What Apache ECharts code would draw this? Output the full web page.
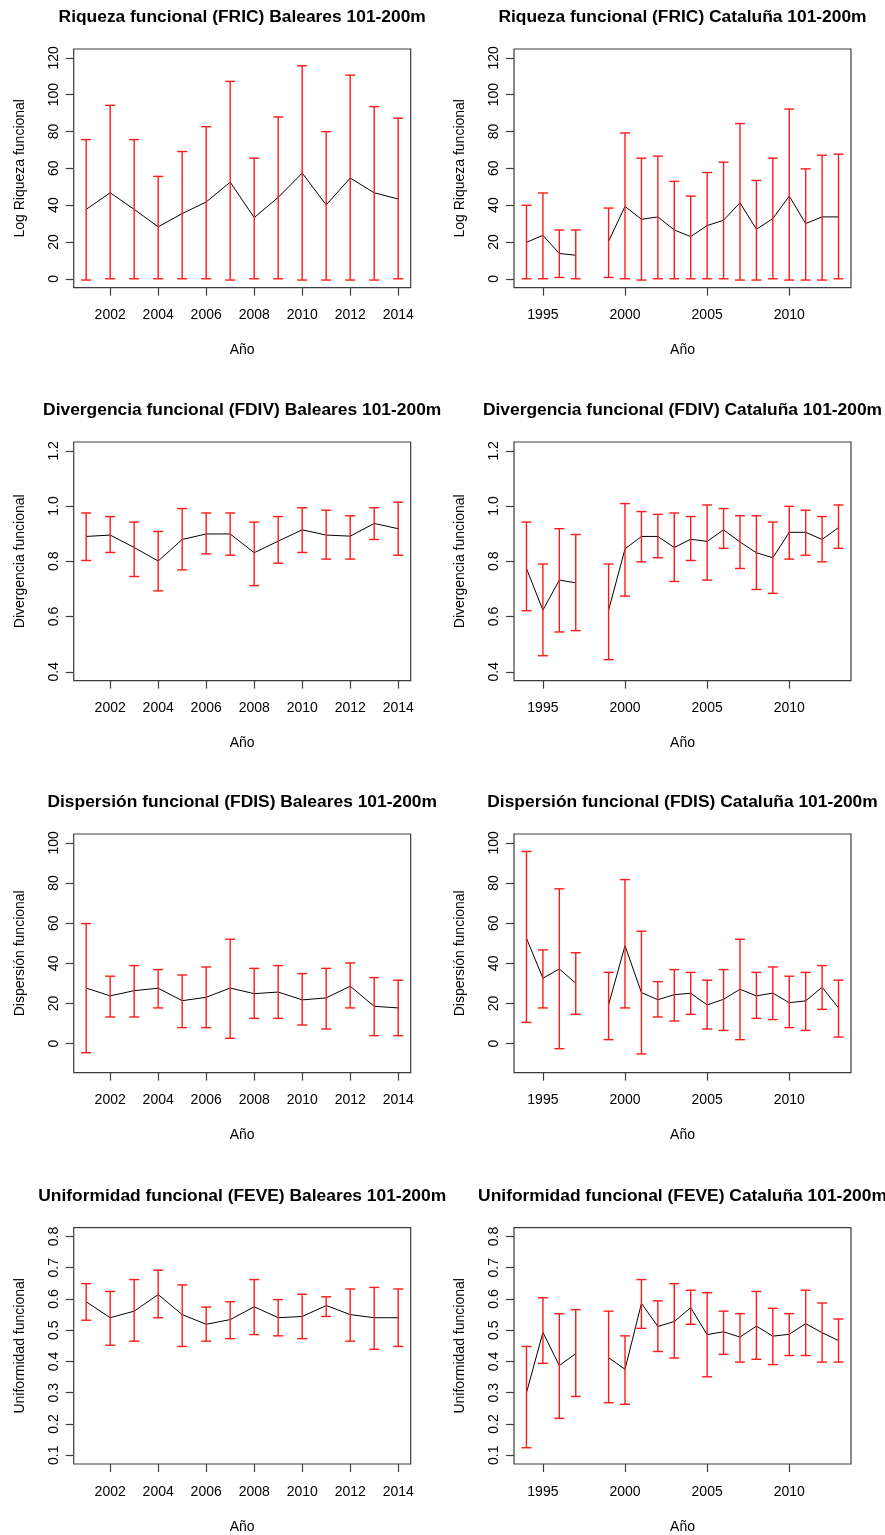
<!DOCTYPE html>
<html>
<head>
<meta charset="utf-8">
<title>Índices funcionales 101-200m</title>
<script src="https://cdn.jsdelivr.net/npm/echarts@6/dist/echarts.min.js"></script>
<style>
  html, body { margin: 0; padding: 0; background: #fff; }
  #chart { width: 885px; height: 1535px; }
</style>
</head>
<body>
<div id="chart"></div>
<script>
// años de cada zona (1998 sin muestreo en Cataluña)
var yearsBal = [2001, 2002, 2003, 2004, 2005, 2006, 2007, 2008, 2009, 2010, 2011, 2012, 2013, 2014]
var yearsCat = [1994, 1995, 1996, 1997, 1998, 1999, 2000, 2001, 2002, 2003, 2004, 2005, 2006, 2007, 2008, 2009, 2010, 2011, 2012, 2013]

// FRIC
var fricBalMean = [37.7, 46.7, 37.7, 28.2, 35.4, 41.7, 52.5, 33.2, 44.2, 57.4, 40.1, 54.7, 46.7, 43.3]
var fricBalLo = [-0.7, 0, 0, 0, 0, 0, -0.7, 0, 0, -0.7, -0.7, -0.7, -0.7, 0]
var fricBalHi = [75.6, 94.2, 75.6, 55.6, 69.1, 82.6, 107.2, 65.5, 87.9, 115.7, 79.9, 110.6, 93.5, 87.2]
var fricCatMean = [19.8, 23.6, 13.7, 12.8, null, 20.4, 39.3, 32.3, 33.6, 26.5, 22.9, 28.9, 31.8, 41.3, 26.9, 32.7, 44.9, 30.0, 33.6, 33.6]
var fricCatLo = [0, 0, 0.7, 0, null, 0.7, 0, -0.7, 0, 0, 0, 0, 0, -0.7, -0.7, 0, -0.7, -0.7, -0.7, 0]
var fricCatHi = [39.9, 46.6, 26.5, 26.5, null, 38.4, 79.2, 65.5, 66.6, 52.9, 44.9, 57.7, 63.3, 84.3, 53.4, 65.5, 92.2, 59.7, 67.1, 67.7]

// FDIV
var fdivBalMean = [0.890, 0.895, 0.850, 0.801, 0.879, 0.899, 0.899, 0.831, 0.873, 0.914, 0.895, 0.891, 0.937, 0.918]
var fdivBalLo = [0.803, 0.832, 0.745, 0.693, 0.769, 0.827, 0.822, 0.712, 0.793, 0.832, 0.808, 0.808, 0.879, 0.822]
var fdivBalHi = [0.975, 0.962, 0.942, 0.908, 0.991, 0.975, 0.975, 0.942, 0.962, 0.994, 0.985, 0.965, 0.994, 1.014]
var fdivCatMean = [0.774, 0.623, 0.732, 0.722, null, 0.623, 0.845, 0.890, 0.890, 0.850, 0.880, 0.872, 0.914, 0.870, 0.831, 0.813, 0.905, 0.905, 0.879, 0.922]
var fdivCatLo = [0.621, 0.458, 0.544, 0.549, null, 0.444, 0.674, 0.798, 0.813, 0.727, 0.803, 0.732, 0.847, 0.774, 0.698, 0.684, 0.808, 0.822, 0.798, 0.847]
var fdivCatHi = [0.942, 0.790, 0.918, 0.897, null, 0.790, 1.009, 0.980, 0.970, 0.975, 0.962, 1.004, 0.991, 0.965, 0.965, 0.942, 0.999, 0.985, 0.962, 1.004]

// FDIS
var fdisBalMean = [27.7, 23.8, 26.4, 27.6, 21.4, 23.1, 27.7, 24.9, 25.7, 21.8, 22.8, 28.6, 18.6, 17.8]
var fdisBalLo = [-4.5, 13.3, 13.3, 17.8, 8.0, 8.0, 2.7, 12.6, 12.6, 9.3, 7.3, 17.8, 4.0, 4.0]
var fdisBalHi = [59.8, 33.6, 38.9, 36.9, 34.2, 38.2, 52.0, 37.5, 38.9, 34.9, 37.5, 40.2, 32.9, 31.6]
var fdisCatMean = [52.5, 32.6, 37.2, 30.1, null, 19.4, 48.8, 25.4, 21.9, 24.4, 25.1, 19.3, 22.1, 27.1, 23.8, 25.2, 20.4, 21.3, 28.1, 17.8]
var fdisCatLo = [10.6, 17.8, -2.5, 14.6, null, 2.0, 17.8, -5.1, 13.3, 11.3, 14.6, 7.3, 6.6, 2.0, 12.6, 12.0, 8.0, 6.6, 17.1, 3.3]
var fdisCatHi = [95.7, 46.7, 77.1, 45.3, null, 35.5, 81.7, 56.0, 30.9, 36.9, 35.5, 31.6, 36.9, 52.0, 35.5, 38.2, 33.6, 35.5, 38.9, 31.6]

// FEVE
var feveBalMean = [0.591, 0.540, 0.561, 0.614, 0.550, 0.519, 0.534, 0.575, 0.540, 0.544, 0.579, 0.550, 0.540, 0.540]
var feveBalLo = [0.532, 0.452, 0.465, 0.540, 0.448, 0.465, 0.473, 0.486, 0.482, 0.473, 0.544, 0.465, 0.439, 0.448]
var feveBalHi = [0.649, 0.624, 0.662, 0.692, 0.645, 0.574, 0.591, 0.662, 0.598, 0.615, 0.607, 0.632, 0.637, 0.632]
var feveCatMean = [0.300, 0.493, 0.387, 0.425, null, 0.412, 0.375, 0.586, 0.512, 0.528, 0.572, 0.486, 0.495, 0.478, 0.513, 0.481, 0.487, 0.521, 0.492, 0.467]
var feveCatLo = [0.124, 0.394, 0.218, 0.288, null, 0.268, 0.263, 0.506, 0.432, 0.411, 0.519, 0.351, 0.423, 0.398, 0.407, 0.390, 0.419, 0.419, 0.398, 0.398]
var feveCatHi = [0.448, 0.604, 0.553, 0.566, null, 0.561, 0.482, 0.662, 0.594, 0.649, 0.628, 0.620, 0.561, 0.553, 0.624, 0.570, 0.553, 0.628, 0.587, 0.536]

// marcas de los ejes
var xTicksBal = [2002, 2004, 2006, 2008, 2010, 2012, 2014]
var xTicksCat = [1995, 2000, 2005, 2010]
var yTicksFric = [0, 20, 40, 60, 80, 100, 120]
var yTicksFdiv = [0.4, 0.6, 0.8, 1.0, 1.2]
var yTicksFdis = [0, 20, 40, 60, 80, 100]
var yTicksFeve = [0.1, 0.2, 0.3, 0.4, 0.5, 0.6, 0.7, 0.8]

var FONT = 'Liberation Sans, Arial, Helvetica, sans-serif'
var AXIS_COLOR = '#3c3c3c'
var BAR_COLOR = '#ff1a1a'

var panels = [
  { title: 'Riqueza funcional (FRIC) Baleares 101-200m', ylab: 'Log Riqueza funcional', years: yearsBal, mean: fricBalMean, lo: fricBalLo, hi: fricBalHi, xTicks: xTicksBal, xlim: [2001, 2014], yTicks: yTicksFric, ylim: [0, 120], dec: 0 },
  { title: 'Riqueza funcional (FRIC) Cataluña 101-200m', ylab: 'Log Riqueza funcional', years: yearsCat, mean: fricCatMean, lo: fricCatLo, hi: fricCatHi, xTicks: xTicksCat, xlim: [1994, 2013], yTicks: yTicksFric, ylim: [0, 120], dec: 0 },
  { title: 'Divergencia funcional (FDIV) Baleares 101-200m', ylab: 'Divergencia funcional', years: yearsBal, mean: fdivBalMean, lo: fdivBalLo, hi: fdivBalHi, xTicks: xTicksBal, xlim: [2001, 2014], yTicks: yTicksFdiv, ylim: [0.4, 1.2], dec: 1 },
  { title: 'Divergencia funcional (FDIV) Cataluña 101-200m', ylab: 'Divergencia funcional', years: yearsCat, mean: fdivCatMean, lo: fdivCatLo, hi: fdivCatHi, xTicks: xTicksCat, xlim: [1994, 2013], yTicks: yTicksFdiv, ylim: [0.4, 1.2], dec: 1 },
  { title: 'Dispersión funcional (FDIS) Baleares 101-200m', ylab: 'Dispersión funcional', years: yearsBal, mean: fdisBalMean, lo: fdisBalLo, hi: fdisBalHi, xTicks: xTicksBal, xlim: [2001, 2014], yTicks: yTicksFdis, ylim: [-10, 100], dec: 0 },
  { title: 'Dispersión funcional (FDIS) Cataluña 101-200m', ylab: 'Dispersión funcional', years: yearsCat, mean: fdisCatMean, lo: fdisCatLo, hi: fdisCatHi, xTicks: xTicksCat, xlim: [1994, 2013], yTicks: yTicksFdis, ylim: [-10, 100], dec: 0 },
  { title: 'Uniformidad funcional (FEVE) Baleares 101-200m', ylab: 'Uniformidad funcional', years: yearsBal, mean: feveBalMean, lo: feveBalLo, hi: feveBalHi, xTicks: xTicksBal, xlim: [2001, 2014], yTicks: yTicksFeve, ylim: [0.1, 0.8], dec: 1 },
  { title: 'Uniformidad funcional (FEVE) Cataluña 101-200m', ylab: 'Uniformidad funcional', years: yearsCat, mean: feveCatMean, lo: feveCatLo, hi: feveCatHi, xTicks: xTicksCat, xlim: [1994, 2013], yTicks: yTicksFeve, ylim: [0.1, 0.8], dec: 1 }
]

var colLeft = [73.7, 514]
var rowTop = [49, 442, 834, 1227.7]
var boxW = 337
var boxH = 238.6

// rango como en R (xaxs = "r"): 4% a cada lado
function extend (lim) {
  var d = (lim[1] - lim[0]) * 0.04
  return [lim[0] - d, lim[1] + d]
}

function renderErrorBar (params, api) {
  var x = api.value(0)
  var pLo = api.coord([x, api.value(1)])
  var pHi = api.coord([x, api.value(2)])
  var half = 5
  var style = { stroke: BAR_COLOR, lineWidth: 1.4 }
  return {
    type: 'group',
    children: [
      { type: 'line', shape: { x1: pLo[0], y1: pLo[1], x2: pHi[0], y2: pHi[1] }, style: style },
      { type: 'line', shape: { x1: pLo[0] - half, y1: pLo[1], x2: pLo[0] + half, y2: pLo[1] }, style: style },
      { type: 'line', shape: { x1: pHi[0] - half, y1: pHi[1], x2: pHi[0] + half, y2: pHi[1] }, style: style }
    ]
  }
}

var titles = []
var grids = []
var xAxes = []
var yAxes = []
var series = []

panels.forEach(function (p, i) {
  var row = Math.floor(i / 2)
  var col = i % 2
  var left = colLeft[col]
  var top = rowTop[row]
  var xr = extend(p.xlim)
  var yr = extend(p.ylim)

  titles.push({
    text: p.title,
    left: left + boxW / 2,
    top: top - 40,
    textAlign: 'center',
    padding: 0,
    textStyle: { fontFamily: FONT, fontSize: 17.4, fontWeight: 'bold', color: '#000' }
  })

  grids.push({
    left: left,
    top: top,
    width: boxW,
    height: boxH,
    show: true,
    borderColor: AXIS_COLOR,
    borderWidth: 1.2,
    backgroundColor: 'transparent'
  })

  xAxes.push({
    type: 'value',
    gridIndex: i,
    min: xr[0],
    max: xr[1],
    name: 'Año',
    nameLocation: 'middle',
    nameGap: 56,
    nameTextStyle: { fontFamily: FONT, fontSize: 14, color: '#000' },
    axisLine: { show: false, onZero: false },
    splitLine: { show: false },
    axisTick: { show: true, length: 8, inside: false, customValues: p.xTicks, lineStyle: { color: AXIS_COLOR, width: 1.2 } },
    axisLabel: {
      customValues: p.xTicks,
      margin: 21,
      fontFamily: FONT,
      fontSize: 14,
      color: '#000',
      formatter: function (v) { return String(Math.round(v)) }
    }
  })

  yAxes.push({
    type: 'value',
    gridIndex: i,
    min: yr[0],
    max: yr[1],
    name: p.ylab,
    nameLocation: 'middle',
    nameGap: 47,
    nameTextStyle: { fontFamily: FONT, fontSize: 14, color: '#000' },
    axisLine: { show: false, onZero: false },
    splitLine: { show: false },
    axisTick: { show: true, length: 8, inside: false, customValues: p.yTicks, lineStyle: { color: AXIS_COLOR, width: 1.2 } },
    axisLabel: {
      customValues: p.yTicks,
      rotate: 90,
      margin: 13,
      fontFamily: FONT,
      fontSize: 14,
      color: '#000',
      formatter: (function (dec) {
        return function (v) { return Number(v).toFixed(dec) }
      })(p.dec)
    }
  })

  var lineData = []
  var barData = []
  p.years.forEach(function (y, k) {
    lineData.push([y, p.mean[k] === null ? '-' : p.mean[k]])
    if (p.lo[k] !== null) barData.push([y, p.lo[k], p.hi[k]])
  })

  series.push({
    type: 'line',
    xAxisIndex: i,
    yAxisIndex: i,
    data: lineData,
    symbol: 'none',
    connectNulls: false,
    lineStyle: { color: '#000', width: 1 },
    z: 2
  })
  series.push({
    type: 'custom',
    xAxisIndex: i,
    yAxisIndex: i,
    data: barData,
    encode: { x: 0, y: [1, 2] },
    renderItem: renderErrorBar,
    z: 3
  })
})

var myChart = echarts.init(document.getElementById('chart'), null, { renderer: 'canvas' })
myChart.setOption({
  animation: false,
  backgroundColor: '#fff',
  title: titles,
  grid: grids,
  xAxis: xAxes,
  yAxis: yAxes,
  series: series
})
</script>
</body>
</html>
